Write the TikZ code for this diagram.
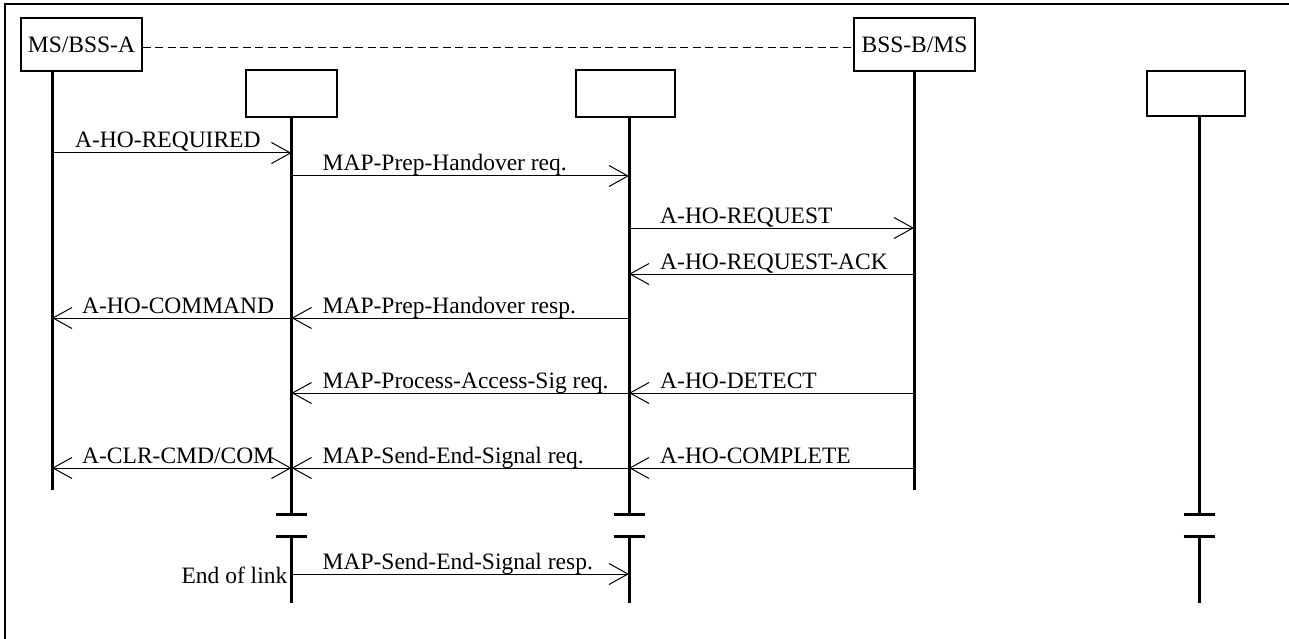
\documentclass[tikz,border=0pt]{standalone}
\usepackage{fontspec}
\setmainfont{Liberation Serif}
\usetikzlibrary{arrows.meta}
\begin{document}
\begin{tikzpicture}[x=1pt,y=-1pt,
  >={Straight Barb[length=19pt,width=21pt]},
  every node/.style={font=\fontsize{23.5}{28}\selectfont},
  ent/.style={draw,line width=1.5pt,inner sep=0pt,minimum height=53pt,minimum width=121pt},
  blank/.style={draw,line width=1.5pt,inner sep=0pt,minimum height=47pt},
  life/.style={line width=3pt},
  brk/.style={line width=3pt},
  msg/.style={line width=1pt,->},
  msgb/.style={line width=1pt,<->},
  lbl/.style={anchor=base west,inner sep=0pt},
  lblr/.style={anchor=base east,inner sep=0pt},
  dashline/.style={line width=1pt,dash pattern=on 8pt off 4.5pt}]
\useasboundingbox (0,0) rectangle (1289,639);
% frame (top and left only)
\draw[line width=1.3pt] (5,639) -- (5,4) -- (1289,4);
% lifeline x positions
\coordinate (xA) at (52,0);
\coordinate (x1) at (291.5,0);
\coordinate (x2) at (629,0);
\coordinate (xB) at (914,0);
\coordinate (x3) at (1199,0);
% row y positions
\coordinate (yd) at (0,48);
\coordinate (y1) at (0,153);
\coordinate (y2) at (0,176);
\coordinate (y3) at (0,228);
\coordinate (y4) at (0,274);
\coordinate (y5) at (0,318);
\coordinate (y6) at (0,393);
\coordinate (y7) at (0,468);
\coordinate (y8) at (0,574);
\coordinate (ye1) at (0,490);
\coordinate (yb1) at (0,514);
\coordinate (yb2) at (0,536);
\coordinate (ye2) at (0,603);
% boxes
\node[ent] (A) at (81.5,44.5) {MS/BSS-A};
\node[ent] (B) at (914.5,44.5) {BSS-B/MS};
\node[blank,minimum width=91pt] (M1) at (291.5,93.5) {};
\node[blank,minimum width=99pt] (M2) at (625.5,93.5) {};
\node[blank,minimum width=98pt,minimum height=45pt] (M3) at (1196,93.5) {};
\draw[dashline] (A.east |- yd) -- (B.west |- yd);
% lifelines
\draw[life] (xA |- A.south) -- (xA |- ye1);
\draw[life] (xB |- B.south) -- (xB |- ye1);
\foreach \x/\b in {x1/M1,x2/M2,x3/M3}{
  \draw[life] (\x |- \b.south) -- (\x |- yb1);
  \draw[brk] (\x |- yb1) ++(-15.5,0) -- ++(31,0);
  \draw[brk] (\x |- yb2) ++(-15.5,0) -- ++(31,0);
  \draw[life] (\x |- yb2) -- (\x |- ye2);
}
% messages
\draw[msg] (xA |- y1) -- (x1 |- y1);
\path (xA |- y1) ++(23,-5) node[lbl] (t1) {A-HO-REQUIRED};
\draw[msg] (x1 |- y2) -- (x2 |- y2);
\path (x1 |- y2) ++(31,-5) node[lbl] (t2) {MAP-Prep-Handover req.};
\draw[msg] (x2 |- y3) -- (xB |- y3);
\path (x2 |- y3) ++(31,-5) node[lbl] (t3) {A-HO-REQUEST};
\draw[msg] (xB |- y4) -- (x2 |- y4);
\path (x2 |- y4) ++(31,-5) node[lbl] (t4) {A-HO-REQUEST-ACK};
\draw[msg] (x2 |- y5) -- (x1 |- y5);
\path (x1 |- y5) ++(31,-5) node[lbl] (t5) {MAP-Prep-Handover resp.};
\draw[msg] (x1 |- y5) -- (xA |- y5);
\path (xA |- y5) ++(30,-5) node[lbl] (t6) {A-HO-COMMAND};
\draw[msg] (xB |- y6) -- (x2 |- y6);
\path (x2 |- y6) ++(31,-5) node[lbl] (t7) {A-HO-DETECT};
\draw[msg] (x2 |- y6) -- (x1 |- y6);
\path (x1 |- y6) ++(31,-5) node[lbl] (t8) {MAP-Process-Access-Sig req.};
\draw[msg] (xB |- y7) -- (x2 |- y7);
\path (x2 |- y7) ++(31,-5) node[lbl] (t9) {A-HO-COMPLETE};
\draw[msg] (x2 |- y7) -- (x1 |- y7);
\path (x1 |- y7) ++(31,-5) node[lbl] (t10) {MAP-Send-End-Signal req.};
\draw[msgb] (xA |- y7) -- (x1 |- y7);
\path (xA |- y7) ++(30,-5) node[lbl] (t11) {A-CLR-CMD/COM};
\draw[msg] (x1 |- y8) -- (x2 |- y8);
\path (x1 |- y8) ++(31,-5) node[lbl] (t12) {MAP-Send-End-Signal resp.};
\path (x1 |- y8) ++(-4,9) node[lblr] (t13) {End of link};
\end{tikzpicture}
\end{document}
